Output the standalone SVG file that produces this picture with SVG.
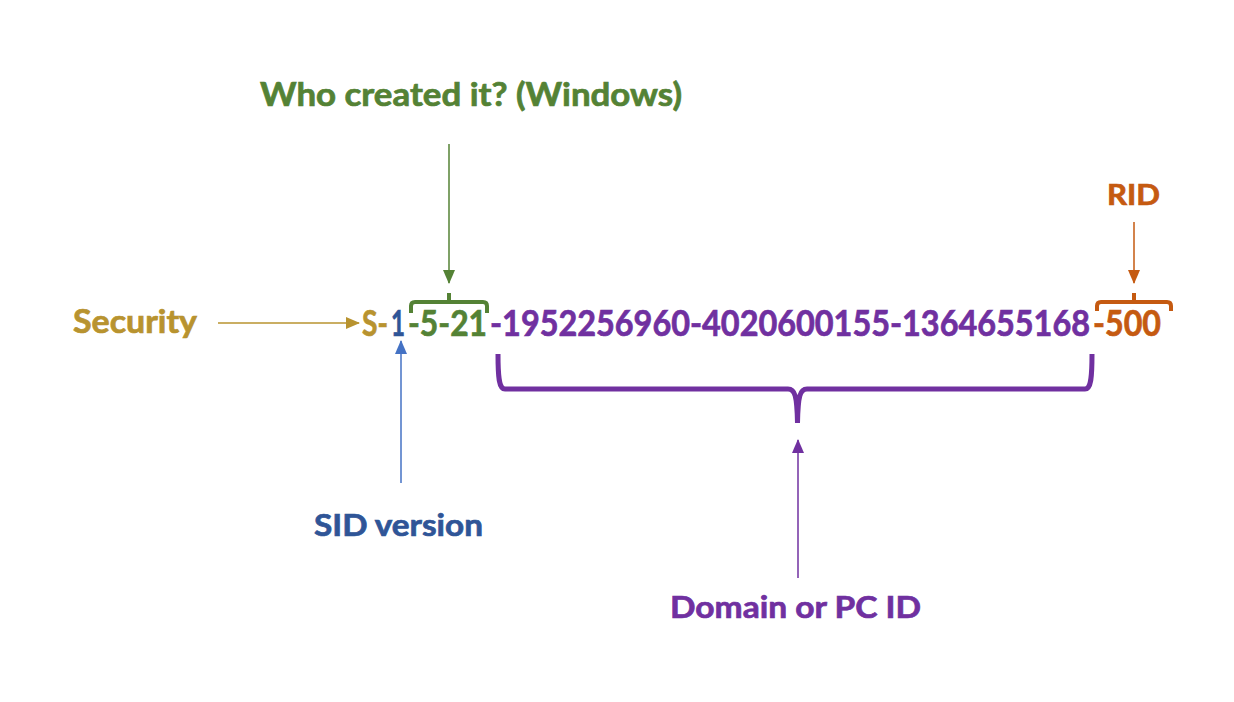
<svg xmlns="http://www.w3.org/2000/svg" width="1234" height="702" viewBox="0 0 1234 702">
<style>
text{font-family:Lato,"Open Sans","Liberation Sans",sans-serif;font-weight:bold;stroke-width:0.7;}
.conn{fill:none;stroke-width:1.5;}
.br{fill:none;stroke-linecap:butt;stroke-linejoin:round;}
.gold{fill:#B8932F;stroke:#B8932F;}
.blue{fill:#2F5597;stroke:#2F5597;}
.green{fill:#548235;stroke:#548235;}
.purple{fill:#7030A0;stroke:#7030A0;}
.orange{fill:#C55A11;stroke:#C55A11;}
</style>
<defs>
<marker id="mGold" markerUnits="userSpaceOnUse" markerWidth="14" markerHeight="14" refX="13" refY="7" orient="auto"><path d="M0,1 L14,7 L0,13 Z" fill="#B8932F"/></marker>
<marker id="mBlue" markerUnits="userSpaceOnUse" markerWidth="14" markerHeight="14" refX="13" refY="7" orient="auto"><path d="M0,1 L14,7 L0,13 Z" fill="#4472C4"/></marker>
<marker id="mGreen" markerUnits="userSpaceOnUse" markerWidth="14" markerHeight="14" refX="13" refY="7" orient="auto"><path d="M0,1 L14,7 L0,13 Z" fill="#548235"/></marker>
<marker id="mOrange" markerUnits="userSpaceOnUse" markerWidth="14" markerHeight="14" refX="13" refY="7" orient="auto"><path d="M0,1 L14,7 L0,13 Z" fill="#C55A11"/></marker>
<marker id="mPurple" markerUnits="userSpaceOnUse" markerWidth="14" markerHeight="14" refX="13" refY="7" orient="auto"><path d="M0,1 L14,7 L0,13 Z" fill="#7030A0"/></marker>
</defs>
<rect width="1234" height="702" fill="#ffffff"/>

<g id="sid" font-size="36">
<text class="gold" x="362" y="336" textLength="26" lengthAdjust="spacingAndGlyphs">S-</text>
<text class="blue" x="391" y="336" textLength="14" lengthAdjust="spacingAndGlyphs">1</text>
<text class="green" x="408" y="336" textLength="79" lengthAdjust="spacingAndGlyphs">-5-21</text>
<text class="purple" x="490" y="336" textLength="600" lengthAdjust="spacingAndGlyphs">-1952256960-4020600155-1364655168</text>
<text class="orange" x="1093" y="336" textLength="68" lengthAdjust="spacingAndGlyphs">-500</text>
</g>

<g id="security">
<text class="gold" x="73" y="333" font-size="32" textLength="124" lengthAdjust="spacingAndGlyphs">Security</text>
</g>
<g id="who">
<text class="green" x="260" y="106" font-size="32" textLength="422" lengthAdjust="spacingAndGlyphs">Who created it? (Windows)</text>
</g>
<g id="rid">
<text class="orange" x="1107" y="205" font-size="28" textLength="53" lengthAdjust="spacingAndGlyphs">RID</text>
</g>
<g id="sidversion">
<text class="blue" x="314" y="536" font-size="31" textLength="169" lengthAdjust="spacingAndGlyphs">SID version</text>
</g>
<g id="domain">
<text class="purple" x="670" y="618" font-size="31" textLength="251" lengthAdjust="spacingAndGlyphs">Domain or PC ID</text>
</g>

<g id="brackets">
<path class="br" stroke="#548235" stroke-width="4" d="M411,313 L411,306 Q411,302 415,302 L483,302 Q487,302 487,306 L487,313 M449,302 L449,293"/>
<path class="br" stroke="#C55A11" stroke-width="4" d="M1097,311 L1097,306 Q1097,302 1101,302 L1167,302 Q1171,302 1171,306 L1171,311 M1134,302 L1134,293"/>
<path class="br" stroke="#7030A0" stroke-width="5" d="M498,354 C498,378 499,389 505,389 L788,389 C795,389 797,396 797.5,423 M1092,354 C1092,378 1091,389 1085,389 L807,389 C800,389 798,396 797.5,423"/>
</g>

<g id="connectors">
<line class="conn" stroke="#B8932F" x1="218" y1="323" x2="359" y2="323" marker-end="url(#mGold)"/>
<line class="conn" stroke="#548235" x1="449" y1="144" x2="449" y2="283" marker-end="url(#mGreen)"/>
<line class="conn" stroke="#C55A11" x1="1134" y1="222" x2="1134" y2="283" marker-end="url(#mOrange)"/>
<line class="conn" stroke="#4472C4" x1="401" y1="483" x2="401" y2="341" marker-end="url(#mBlue)"/>
<line class="conn" stroke="#7030A0" x1="798" y1="578" x2="798" y2="440" marker-end="url(#mPurple)"/>
</g>
</svg>
